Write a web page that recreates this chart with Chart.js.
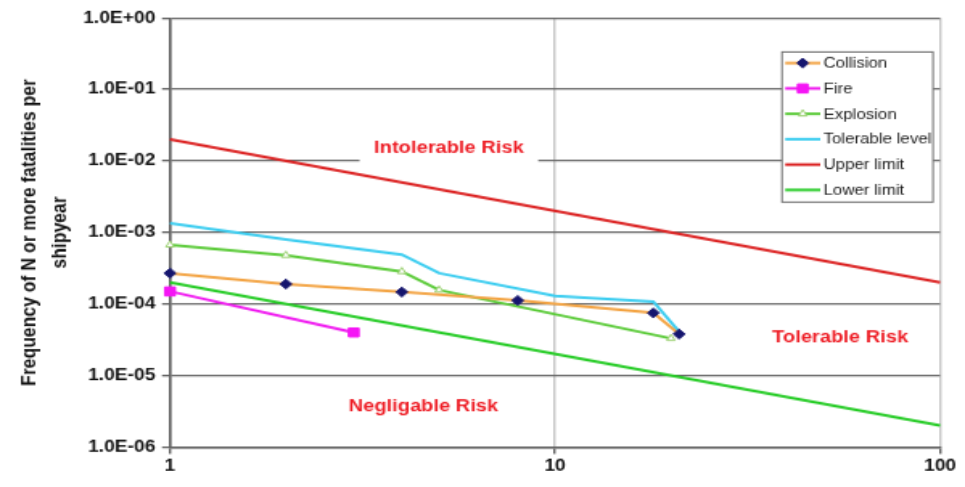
<!DOCTYPE html>
<html>
<head>
<meta charset="utf-8">
<title>F-N curve</title>
<script src="https://cdn.jsdelivr.net/npm/chart.js@4.4.1/dist/chart.umd.min.js"></script>
<style>
  html, body { margin: 0; padding: 0; background: #ffffff; }
  canvas { display: block; }
</style>
</head>
<body>
<!-- drawn at 600x360 and shown at 965x487 -->
<canvas id="fn" width="600" height="360" style="width:965px;height:487px"></canvas>
<script>
// F-N data: number of fatalities N and frequency of N or more per ship-year
const collisionN = [1, 2, 4, 8, 18, 21];
const collisionF = [2.7e-4, 1.9e-4, 1.47e-4, 1.12e-4, 7.5e-5, 3.8e-5];

const fireN = [1, 3];
const fireF = [1.5e-4, 4.0e-5];

const explosionN = [1, 2, 4, 5, 20];
const explosionF = [6.7e-4, 4.8e-4, 2.85e-4, 1.57e-4, 3.3e-5];

const tolerableN = [1, 2, 4, 5, 10, 18, 21];
const tolerableF = [1.35e-3, 8.0e-4, 4.9e-4, 2.7e-4, 1.3e-4, 1.08e-4, 4.1e-5];

const upperN = [1, 100];
const upperF = [2e-2, 2e-4];

const lowerN = [1, 100];
const lowerF = [2e-4, 2e-6];

const seriesNames = ['Collision', 'Fire', 'Explosion', 'Tolerable level', 'Upper limit', 'Lower limit'];

const xTickValues = [1, 10, 100];
const xTickLabels = ['1', '10', '100'];
const yTickValues = [1e-6, 1e-5, 1e-4, 1e-3, 1e-2, 1e-1, 1];
const yTickLabels = ['1.0E-06', '1.0E-05', '1.0E-04', '1.0E-03', '1.0E-02', '1.0E-01', '1.0E+00'];
const yTitleLines = ['Frequency of N or more fatalities per', 'shipyear'];

// risk region captions, placed at (N, F)
const regionNames = ['Intolerable Risk', 'Tolerable Risk', 'Negligable Risk'];
const regionN = [5.3, 55, 4.55];
const regionF = [1.52e-2, 3.4e-5, 3.6e-6];

const FONT = '"Liberation Sans", Arial, Helvetica, sans-serif';
Chart.defaults.font.family = FONT;

const pts = (xs, ys) => xs.map((x, i) => ({ x: x, y: ys[i] }));

function lineSet(label, xs, ys, color, extra) {
  return Object.assign({
    label: label,
    data: pts(xs, ys),
    showLine: true,
    borderColor: color,
    backgroundColor: color,
    borderWidth: 2,
    tension: 0,
    pointRadius: 0,
    pointHoverRadius: 0,
    pointBorderWidth: 0,
    pointStyle: false,
    clip: false
  }, extra || {});
}

const datasets = [
  lineSet(seriesNames[0], collisionN, collisionF, '#f3a444', {
    pointStyle: 'rectRot', pointRadius: 3.6, pointBackgroundColor: '#15156e',
    pointBorderColor: '#15156e', pointBorderWidth: 1
  }),
  lineSet(seriesNames[1], fireN, fireF, '#f01cf0', {
    pointStyle: 'rect', pointRadius: 4.6, pointBackgroundColor: '#f514f5',
    pointBorderColor: '#f514f5', pointBorderWidth: 1
  }),
  lineSet(seriesNames[2], explosionN, explosionF, '#5ccb3a', {
    pointStyle: 'triangle', pointRadius: 3, pointBackgroundColor: '#ffffff',
    pointBorderColor: '#9ad070', pointBorderWidth: 1
  }),
  lineSet(seriesNames[3], tolerableN, tolerableF, '#3ccdf0'),
  lineSet(seriesNames[4], upperN, upperF, '#dc2424'),
  lineSet(seriesNames[5], lowerN, lowerF, '#27cc27')
];

// legend frame and rows
const legendLayout = { left: 486.2, top: 38.4, right: 580.1, bottom: 149.4,
  lineX0: 488.2, lineX1: 510, textX: 512, firstY: 46.6, step: 18.76 };

const boxedLegend = {
  id: 'boxedLegend',
  afterDraw(chart) {
    const ctx = chart.ctx;
    const L = legendLayout;
    ctx.save();
    ctx.fillStyle = '#ffffff';
    ctx.fillRect(L.left, L.top, L.right - L.left, L.bottom - L.top);
    ctx.strokeStyle = '#6e6e6e';
    ctx.lineWidth = 1;
    ctx.strokeRect(L.left, L.top, L.right - L.left, L.bottom - L.top);
    chart.data.datasets.forEach((ds, i) => {
      const y = L.firstY + i * L.step;
      ctx.strokeStyle = ds.borderColor;
      ctx.lineWidth = ds.borderWidth;
      ctx.beginPath();
      ctx.moveTo(L.lineX0, y);
      ctx.lineTo(L.lineX1, y);
      ctx.stroke();
      if (ds.pointStyle && ds.pointRadius > 0) {
        ctx.fillStyle = ds.pointBackgroundColor;
        ctx.strokeStyle = ds.pointBorderColor;
        ctx.lineWidth = ds.pointBorderWidth;
        Chart.helpers.drawPoint(ctx, {
          pointStyle: ds.pointStyle, radius: ds.pointRadius,
          rotation: 0, borderWidth: ds.pointBorderWidth
        }, (L.lineX0 + L.lineX1) / 2, y);
      }
      ctx.fillStyle = '#1a1a1a';
      ctx.font = '10.5px ' + FONT;
      ctx.textAlign = 'left';
      ctx.textBaseline = 'middle';
      ctx.fillText(ds.label, L.textX, y + 0.5);
    });
    ctx.restore();
  }
};

// region captions; the first one sits on a white panel over the grid
const regionLabels = {
  id: 'regionLabels',
  beforeDatasetsDraw(chart) {
    const ctx = chart.ctx;
    const xs = chart.scales.x, ys = chart.scales.y;
    ctx.save();
    ctx.font = 'bold 12.5px ' + FONT;
    const cx = xs.getPixelForValue(regionN[0]);
    const cy = ys.getPixelForValue(regionF[0]);
    const w = ctx.measureText(regionNames[0]).width;
    ctx.fillStyle = '#ffffff';
    ctx.fillRect(cx - w / 2 - 9, cy - 11, w + 18, 23);
    ctx.restore();
  },
  afterDatasetsDraw(chart) {
    const ctx = chart.ctx;
    const xs = chart.scales.x, ys = chart.scales.y;
    ctx.save();
    ctx.font = 'bold 12.5px ' + FONT;
    ctx.fillStyle = '#ee1d25';
    ctx.textAlign = 'center';
    ctx.textBaseline = 'middle';
    regionNames.forEach((t, i) => {
      ctx.fillText(t, xs.getPixelForValue(regionN[i]), ys.getPixelForValue(regionF[i]));
    });
    ctx.restore();
  }
};

const labelFor = (values, labels) => (v) => {
  const i = values.findIndex(t => Math.abs(Math.log10(t) - Math.log10(v)) < 1e-6);
  return i >= 0 ? labels[i] : '';
};

new Chart(document.getElementById('fn'), {
  type: 'scatter',
  data: { datasets: datasets },
  options: {
    responsive: false,
    devicePixelRatio: 1,
    animation: false,
    events: [],
    layout: { padding: { left: 0, top: 13.3, right: 15.5, bottom: 0 } },
    plugins: { legend: { display: false }, tooltip: { enabled: false } },
    scales: {
      x: {
        type: 'logarithmic',
        min: 1, max: 100,
        afterBuildTicks: (s) => { s.ticks = xTickValues.map(v => ({ value: v })); },
        afterFit: (s) => { s.height = 29.6; },
        ticks: {
          callback: labelFor(xTickValues, xTickLabels),
          maxRotation: 0, autoSkip: false, padding: 2,
          color: '#111111', font: { size: 12, weight: 'bold' }
        },
        grid: {
          color: (c) => (c.tick && c.tick.value === 1 ? '#5e5e5e' : '#c6c6c6'),
          lineWidth: 1.4,
          tickLength: 5,
          tickColor: '#5e5e5e'
        },
        border: { display: true, color: '#5e5e5e', width: 1.4 }
      },
      y: {
        type: 'logarithmic',
        min: 1e-6, max: 1,
        afterBuildTicks: (s) => { s.ticks = yTickValues.map(v => ({ value: v })); },
        afterFit: (s) => { s.width = 105.7; },
        ticks: {
          callback: labelFor(yTickValues, yTickLabels),
          autoSkip: false, padding: 4,
          color: '#111111', font: { size: 12, weight: 'bold' }
        },
        grid: {
          color: '#6a6a6a',
          lineWidth: 1.3,
          tickLength: 5,
          tickColor: '#5e5e5e'
        },
        border: { display: true, color: '#5e5e5e', width: 1.4 },
        title: {
          display: true,
          text: yTitleLines,
          color: '#111111',
          font: { size: 13, weight: 'bold', lineHeight: 1.43 },
          padding: { top: 9.4, bottom: 0 }
        }
      }
    }
  },
  plugins: [regionLabels, boxedLegend]
});
</script>
</body>
</html>
